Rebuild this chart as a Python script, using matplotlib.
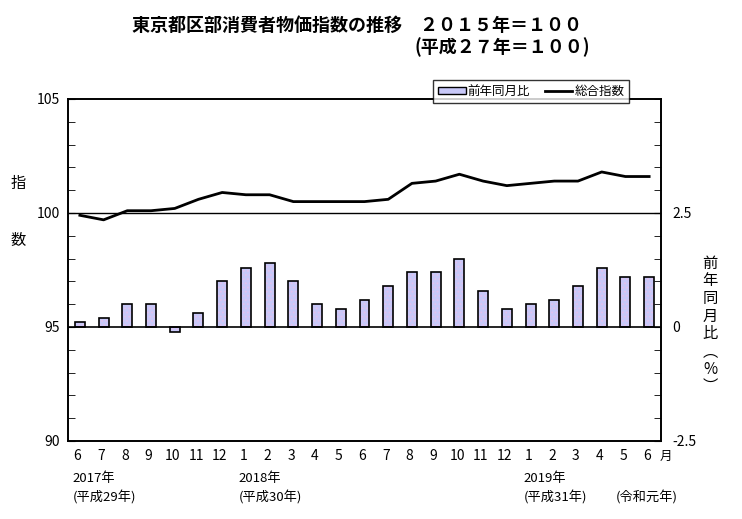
import numpy as np
import matplotlib.pyplot as plt
from matplotlib.patches import Patch

plt.rcParams['font.family'] = ['Noto Sans CJK JP', 'DejaVu Sans']
plt.rcParams['hatch.linewidth'] = 0.8

months = ["6", "7", "8", "9", "10", "11", "12", "1", "2", "3", "4", "5", "6",
          "7", "8", "9", "10", "11", "12", "1", "2", "3", "4", "5", "6"]
index_vals = [99.9, 99.7, 100.1, 100.1, 100.2, 100.6, 100.9, 100.8, 100.8, 100.5,
              100.5, 100.5, 100.5, 100.6, 101.3, 101.4, 101.7, 101.4, 101.2, 101.3,
              101.4, 101.4, 101.8, 101.6, 101.6]
yoy_vals = [0.1, 0.2, 0.5, 0.5, -0.1, 0.3, 1.0, 1.3, 1.4, 1.0, 0.5, 0.4, 0.6,
            0.9, 1.2, 1.2, 1.5, 0.8, 0.4, 0.5, 0.6, 0.9, 1.3, 1.1, 1.1]
year_labels = [(0, "2017年", "(平成29年)"), (7, "2018年", "(平成30年)"),
               (19, "2019年", "(平成31年)")]

fig = plt.figure(figsize=(7.42, 5.19), dpi=100)
ax = fig.add_axes([68 / 742, 1 - 441 / 519, 593 / 742, 342 / 519])
ax2 = ax.twinx()

x = np.arange(len(months))

# bars on right axis: dotted fill first, black outline on top
ax2.bar(x, yoy_vals, width=0.42, color="#c8c8f8", edgecolor="#e2c2ee",
        linewidth=0, hatch="....", zorder=2)
ax2.bar(x, yoy_vals, width=0.42, fill=False, edgecolor="black", linewidth=1.2, zorder=2.5)
ax2.set_ylim(-2.5, 5.0)
ax2.axhline(0, color="black", linewidth=1.2, zorder=3)
ax2.set_yticks([-2.5, 0, 2.5])
ax2.set_yticklabels(["-2.5", "0", "2.5"])
ax2.set_yticks(np.arange(-2.5, 5.01, 0.5), minor=True)

ax.set_ylim(90, 105)
ax.set_yticks([90, 95, 100, 105])
ax.set_yticks(np.arange(90, 105.1, 1), minor=True)
ax2.axhline(2.5, color="black", linewidth=1.0, zorder=3)
# index line drawn on ax2 (converted) so it sits above the bars
idx_on_right = [(v - 95) / 2 for v in index_vals]
line, = ax2.plot(x, idx_on_right, color="black", linewidth=2.0, zorder=4)

ax.set_xlim(-0.5, len(months) - 0.5)
ax.set_xticks([])
for a in (ax, ax2):
    for s in a.spines.values():
        s.set_linewidth(1.2)

ax.tick_params(axis="y", which="both", direction="in", length=5, labelsize=10, pad=6)
ax2.tick_params(axis="y", which="both", direction="in", length=5, labelsize=10, pad=8)

tr = ax.get_xaxis_transform()
for i, m in enumerate(months):
    ax.text(i - 0.1, -0.045, m, transform=tr, ha="center", va="center", fontsize=10)
ax.text(len(months) - 0.55, -0.045, "月", transform=tr, ha="left", va="center",
        fontsize=9)
for pos, yr, era in year_labels:
    ax.text(pos - 0.3, -0.11, yr, transform=tr, ha="left", va="center", fontsize=9.5)
    ax.text(pos - 0.3, -0.165, era, transform=tr, ha="left", va="center", fontsize=9.5)
ax.text(22.6, -0.165, "(令和元年)", transform=tr, ha="left", va="center", fontsize=9.5)

fig.text(18 / 742, 1 - 183 / 519, "指", fontsize=11, ha="center", va="center")
fig.text(18 / 742, 1 - 240 / 519, "数", fontsize=11, ha="center", va="center")
fig.text(710 / 742, 1 - 325 / 519, "前\n年\n同\n月\n比\n︵\n%\n︶", fontsize=11,
         ha="center", va="center", linespacing=1.05)

fig.text(132 / 742, 1 - 25 / 519, "東京都区部消費者物価指数の推移　２０１５年＝１００",
         fontsize=13, fontweight="bold", ha="left", va="center")
fig.text(590 / 742, 1 - 47 / 519, "(平成２７年＝１００)",
         fontsize=13, fontweight="bold", ha="right", va="center")

bar_handle = Patch(facecolor="#c8c8f8", edgecolor="black", linewidth=1.0)
leg = ax2.legend([bar_handle, line], ["前年同月比", "総合指数"], loc="upper left",
                 bbox_to_anchor=(433 / 742, 1 - 80 / 519),
                 bbox_transform=fig.transFigure, ncol=2, frameon=True, fancybox=False,
                 fontsize=9, handlelength=2.2, handleheight=0.45, borderpad=0.4,
                 columnspacing=1.2, handletextpad=0.15, borderaxespad=0)
leg.get_frame().set_edgecolor("black")
leg.get_frame().set_linewidth(1.0)
leg.set_zorder(10)

fig.savefig("out.png", dpi=100)
